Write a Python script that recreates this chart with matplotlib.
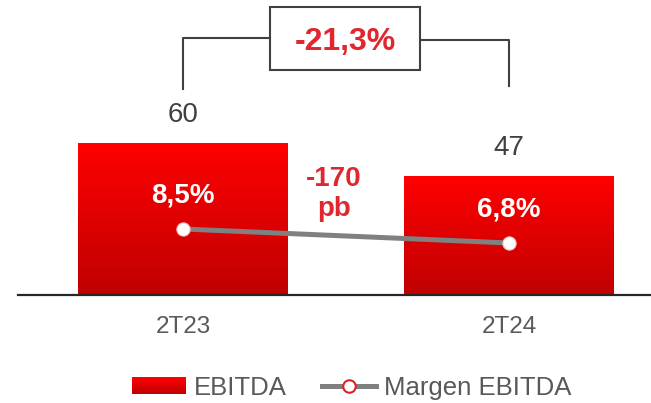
import numpy as np
import matplotlib.pyplot as plt
from matplotlib.patches import Rectangle
from matplotlib.lines import Line2D
from matplotlib.legend_handler import HandlerBase
from matplotlib.colors import LinearSegmentedColormap

plt.rcParams['font.family'] = ['Liberation Sans', 'DejaVu Sans']

# données
periodes = ["2T23", "2T24"]
ebitda = [60, 47]
marge = [8.5, 6.8]
labels_ebitda = ["60", "47"]
labels_marge = ["8,5%", "6,8%"]
variation = "-21,3%"
variation_marge = "-170\npb"

rouge_txt = "#E0262E"
gris_txt = "#404040"
degrade = LinearSegmentedColormap.from_list("deg", ["#C00000", "#FF0000"])

fig = plt.figure(figsize=(6.51, 4.03), dpi=100)
ax = fig.add_axes([0.0276, 0.268, 0.9724, 0.732])
x = np.arange(len(periodes))

barres = ax.bar(x, ebitda, width=0.644, color="none", zorder=2)
grad = np.linspace(0, 1, 256).reshape(-1, 1)
for b in barres:
    im = ax.imshow(grad, cmap=degrade, origin="lower", aspect="auto",
                   extent=[b.get_x(), b.get_x() + b.get_width(), 0, b.get_height()],
                   zorder=2)
    im.set_clip_path(b)

ax.set_xlim(-0.506, 1.436)
ax.set_ylim(0, 116.1)
for s in ["top", "left", "right"]:
    ax.spines[s].set_visible(False)
ax.spines["bottom"].set_color("#262626")
ax.spines["bottom"].set_linewidth(1.6)
ax.set_yticks([])
ax.set_xticks(x)
ax.set_xticklabels(periodes, fontsize=17.5, color="#595959")
ax.tick_params(axis="x", length=0, pad=15)

for xi, v, lab in zip(x, ebitda, labels_ebitda):
    ax.annotate(lab, (xi, v), xytext=(0, 20), textcoords="offset points",
                ha="center", va="center", fontsize=20, color=gris_txt)

# marge EBITDA sur axe secondaire
ax2 = ax.twinx()
ax2.set_ylim(0.486, 36.3)
ax2.axis("off")
ax2.plot(x, marge, color="#808080", lw=3.6, zorder=3)
ax2.plot(x, marge, "o", ms=9.5, mfc="white", mec="#F2C8C8", mew=0.8, zorder=4)
for xi, v, lab in zip(x, marge, labels_marge):
    ax2.annotate(lab, (xi, v), xytext=(0, 24), textcoords="offset points",
                 ha="center", va="center", fontsize=20, color="white",
                 fontweight="bold")

ax.text(0.463, 39.8, variation_marge, ha="center", va="center", fontsize=20,
        color=rouge_txt, fontweight="bold", linespacing=1.2)

# accolade et boîte de variation
ax.plot([0, 0, 0.267], [81.1, 101.2, 101.2], color=gris_txt, lw=1.5,
        clip_on=False)
ax.plot([0.727, 1, 1], [100.4, 100.4, 82.3], color=gris_txt, lw=1.5,
        clip_on=False)
ax.add_patch(Rectangle((0.267, 88.6), 0.46, 24.8, facecolor="white",
                       edgecolor=gris_txt, lw=1.5, clip_on=False))
ax.text(0.497, 99.6, variation, ha="center", va="center", fontsize=23,
        color=rouge_txt, fontweight="bold")


class HandlerDegrade(HandlerBase):
    def create_artists(self, legend, orig_handle, xdescent, ydescent,
                       width, height, fontsize, trans):
        n = 20
        arts = []
        for i in range(n):
            r = Rectangle((-xdescent, -ydescent + height * i / n), width,
                          height / n + 0.2, facecolor=degrade(i / (n - 1)),
                          edgecolor="none", transform=trans)
            arts.append(r)
        return arts


h1 = Rectangle((0, 0), 1, 1)
h2 = Line2D([], [], color="#808080", lw=3.6, marker="o", ms=9, mfc="white",
            mec="#E02020", mew=1.5)
leg = fig.legend([h1, h2], ["EBITDA", "Margen EBITDA"],
                 handler_map={Rectangle: HandlerDegrade()},
                 loc="center", bbox_to_anchor=(0.54, 0.038), ncol=2,
                 frameon=False, fontsize=18.5, handlelength=2.1,
                 handleheight=0.6, handletextpad=0.3, columnspacing=1.4)
for t in leg.get_texts():
    t.set_color("#595959")

fig.savefig("out.png", dpi=100)
